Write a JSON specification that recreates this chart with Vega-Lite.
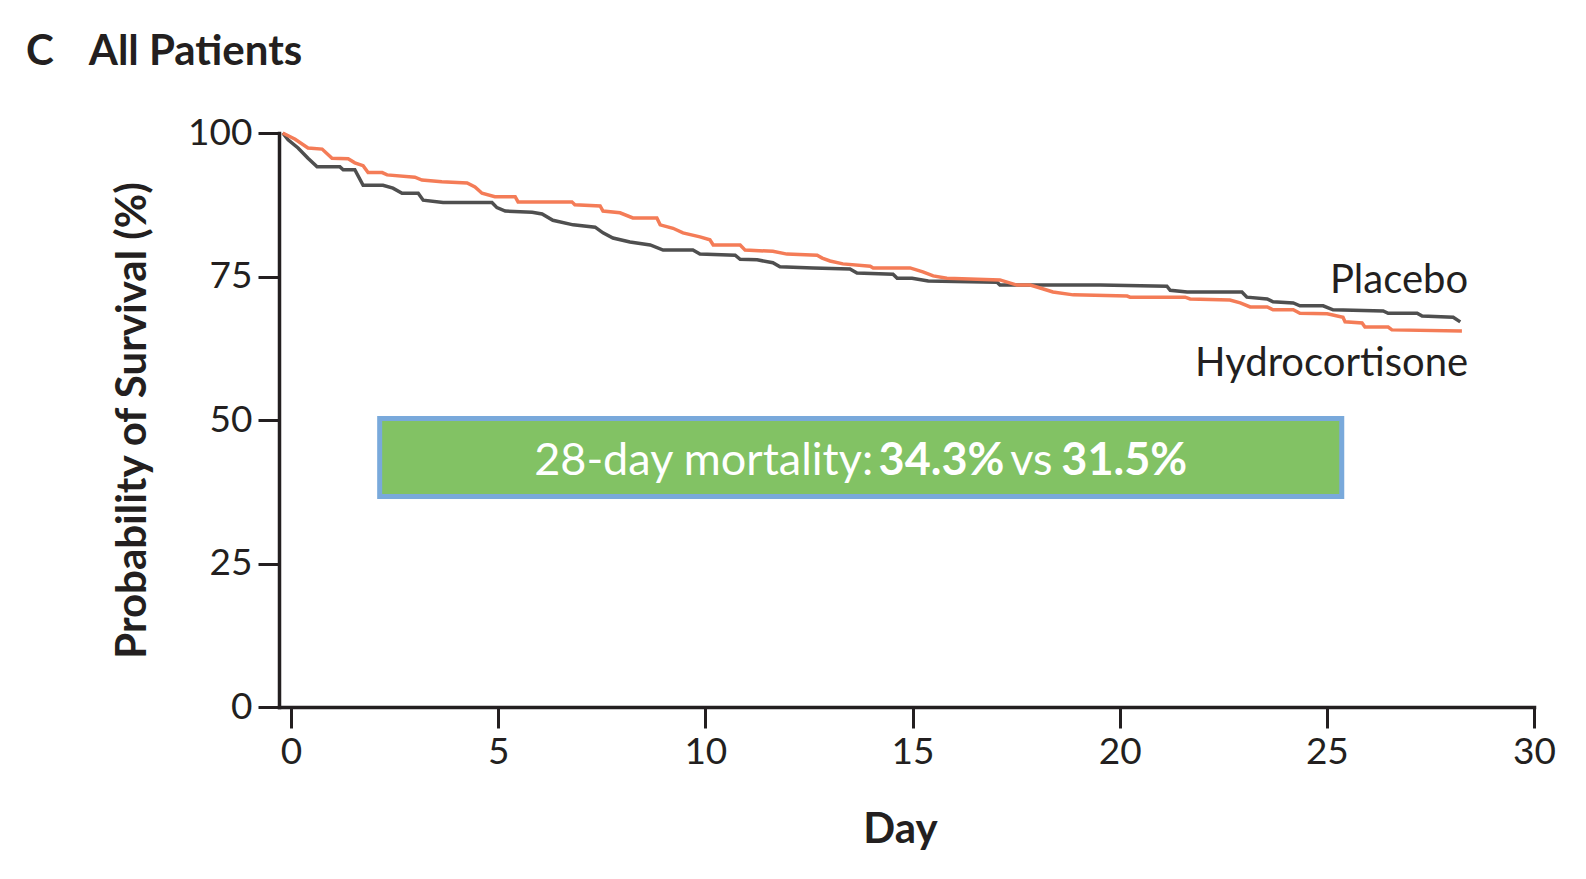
{
  "$schema": "https://vega.github.io/schema/vega-lite/v6.json",
  "autosize": "none",
  "width": 1255,
  "height": 574,
  "padding": {"left": 279, "top": 133, "right": 52, "bottom": 172},
  "background": "white",
  "title": {"text": "C\u2002\u2004All Patients", "anchor": "start", "frame": "group", "dx": -253, "offset": 7, "baseline": "alphabetic", "font": "Lato", "fontSize": 42, "fontWeight": "bold", "color": "#231f20"},
  "config": {
    "view": {"stroke": null},
    "axis": {"grid": false, "domainColor": "#231f20", "tickColor": "#231f20", "labelColor": "#231f20", "titleColor": "#231f20", "domainWidth": 3.5, "tickWidth": 3, "tickSize": 21, "labelFont": "Lato", "labelFontSize": 37, "titleFont": "Lato", "titleFontSize": 42, "titleFontWeight": "bold", "labelPadding": 6, "labelFlush": false, "labelOverlap": false, "labelBound": false, "domainCap": "square"}
  },
  "datasets": {
    "curves": [
      {"arm": "Placebo", "day": -0.2, "surv": 100},
      {"arm": "Placebo", "day": -0.07, "surv": 98.8},
      {"arm": "Placebo", "day": 0.17, "surv": 97.4},
      {"arm": "Placebo", "day": 0.41, "surv": 95.6},
      {"arm": "Placebo", "day": 0.63, "surv": 94.1},
      {"arm": "Placebo", "day": 1.18, "surv": 94.1},
      {"arm": "Placebo", "day": 1.26, "surv": 93.6},
      {"arm": "Placebo", "day": 1.54, "surv": 93.6},
      {"arm": "Placebo", "day": 1.74, "surv": 90.9},
      {"arm": "Placebo", "day": 2.22, "surv": 90.9},
      {"arm": "Placebo", "day": 2.46, "surv": 90.4},
      {"arm": "Placebo", "day": 2.68, "surv": 89.5},
      {"arm": "Placebo", "day": 3.07, "surv": 89.5},
      {"arm": "Placebo", "day": 3.19, "surv": 88.3},
      {"arm": "Placebo", "day": 3.67, "surv": 87.9},
      {"arm": "Placebo", "day": 4.85, "surv": 87.9},
      {"arm": "Placebo", "day": 4.97, "surv": 87.0},
      {"arm": "Placebo", "day": 5.17, "surv": 86.4},
      {"arm": "Placebo", "day": 5.82, "surv": 86.2},
      {"arm": "Placebo", "day": 6.06, "surv": 85.9},
      {"arm": "Placebo", "day": 6.32, "surv": 84.8},
      {"arm": "Placebo", "day": 6.81, "surv": 84.0},
      {"arm": "Placebo", "day": 7.34, "surv": 83.6},
      {"arm": "Placebo", "day": 7.53, "surv": 82.6},
      {"arm": "Placebo", "day": 7.77, "surv": 81.7},
      {"arm": "Placebo", "day": 8.18, "surv": 81.0},
      {"arm": "Placebo", "day": 8.67, "surv": 80.5},
      {"arm": "Placebo", "day": 8.98, "surv": 79.6},
      {"arm": "Placebo", "day": 9.70, "surv": 79.6},
      {"arm": "Placebo", "day": 9.87, "surv": 78.9},
      {"arm": "Placebo", "day": 10.72, "surv": 78.7},
      {"arm": "Placebo", "day": 10.84, "surv": 78.0},
      {"arm": "Placebo", "day": 11.25, "surv": 77.9},
      {"arm": "Placebo", "day": 11.63, "surv": 77.4},
      {"arm": "Placebo", "day": 11.80, "surv": 76.7},
      {"arm": "Placebo", "day": 12.60, "surv": 76.5},
      {"arm": "Placebo", "day": 13.49, "surv": 76.3},
      {"arm": "Placebo", "day": 13.66, "surv": 75.6},
      {"arm": "Placebo", "day": 14.53, "surv": 75.4},
      {"arm": "Placebo", "day": 14.63, "surv": 74.7},
      {"arm": "Placebo", "day": 14.99, "surv": 74.7},
      {"arm": "Placebo", "day": 15.38, "surv": 74.2},
      {"arm": "Placebo", "day": 17.04, "surv": 74.0},
      {"arm": "Placebo", "day": 17.11, "surv": 73.5},
      {"arm": "Placebo", "day": 19.53, "surv": 73.5},
      {"arm": "Placebo", "day": 21.14, "surv": 73.3},
      {"arm": "Placebo", "day": 21.22, "surv": 72.6},
      {"arm": "Placebo", "day": 21.63, "surv": 72.3},
      {"arm": "Placebo", "day": 22.95, "surv": 72.3},
      {"arm": "Placebo", "day": 23.07, "surv": 71.4},
      {"arm": "Placebo", "day": 23.56, "surv": 71.1},
      {"arm": "Placebo", "day": 23.70, "surv": 70.6},
      {"arm": "Placebo", "day": 24.19, "surv": 70.4},
      {"arm": "Placebo", "day": 24.35, "surv": 69.9},
      {"arm": "Placebo", "day": 24.91, "surv": 69.9},
      {"arm": "Placebo", "day": 25.15, "surv": 69.2},
      {"arm": "Placebo", "day": 26.36, "surv": 69.0},
      {"arm": "Placebo", "day": 26.48, "surv": 68.6},
      {"arm": "Placebo", "day": 27.18, "surv": 68.6},
      {"arm": "Placebo", "day": 27.30, "surv": 68.1},
      {"arm": "Placebo", "day": 28.05, "surv": 67.9},
      {"arm": "Placebo", "day": 28.22, "surv": 67.1},
      {"arm": "Hydrocortisone", "day": -0.2, "surv": 100},
      {"arm": "Hydrocortisone", "day": 0.10, "surv": 98.9},
      {"arm": "Hydrocortisone", "day": 0.41, "surv": 97.4},
      {"arm": "Hydrocortisone", "day": 0.75, "surv": 97.2},
      {"arm": "Hydrocortisone", "day": 0.99, "surv": 95.6},
      {"arm": "Hydrocortisone", "day": 1.38, "surv": 95.5},
      {"arm": "Hydrocortisone", "day": 1.54, "surv": 94.8},
      {"arm": "Hydrocortisone", "day": 1.74, "surv": 94.3},
      {"arm": "Hydrocortisone", "day": 1.86, "surv": 93.1},
      {"arm": "Hydrocortisone", "day": 2.20, "surv": 93.1},
      {"arm": "Hydrocortisone", "day": 2.32, "surv": 92.7},
      {"arm": "Hydrocortisone", "day": 2.99, "surv": 92.3},
      {"arm": "Hydrocortisone", "day": 3.16, "surv": 91.8},
      {"arm": "Hydrocortisone", "day": 3.64, "surv": 91.5},
      {"arm": "Hydrocortisone", "day": 4.25, "surv": 91.3},
      {"arm": "Hydrocortisone", "day": 4.44, "surv": 90.6},
      {"arm": "Hydrocortisone", "day": 4.61, "surv": 89.5},
      {"arm": "Hydrocortisone", "day": 4.92, "surv": 88.9},
      {"arm": "Hydrocortisone", "day": 5.41, "surv": 88.9},
      {"arm": "Hydrocortisone", "day": 5.48, "surv": 88.0},
      {"arm": "Hydrocortisone", "day": 6.78, "surv": 88.0},
      {"arm": "Hydrocortisone", "day": 6.85, "surv": 87.5},
      {"arm": "Hydrocortisone", "day": 7.46, "surv": 87.3},
      {"arm": "Hydrocortisone", "day": 7.53, "surv": 86.4},
      {"arm": "Hydrocortisone", "day": 7.94, "surv": 86.1},
      {"arm": "Hydrocortisone", "day": 8.25, "surv": 85.2},
      {"arm": "Hydrocortisone", "day": 8.83, "surv": 85.2},
      {"arm": "Hydrocortisone", "day": 8.91, "surv": 84.0},
      {"arm": "Hydrocortisone", "day": 9.22, "surv": 83.4},
      {"arm": "Hydrocortisone", "day": 9.46, "surv": 82.6},
      {"arm": "Hydrocortisone", "day": 9.87, "surv": 81.9},
      {"arm": "Hydrocortisone", "day": 10.11, "surv": 81.4},
      {"arm": "Hydrocortisone", "day": 10.19, "surv": 80.5},
      {"arm": "Hydrocortisone", "day": 10.84, "surv": 80.5},
      {"arm": "Hydrocortisone", "day": 10.96, "surv": 79.6},
      {"arm": "Hydrocortisone", "day": 11.63, "surv": 79.4},
      {"arm": "Hydrocortisone", "day": 11.97, "surv": 78.9},
      {"arm": "Hydrocortisone", "day": 12.70, "surv": 78.7},
      {"arm": "Hydrocortisone", "day": 12.82, "surv": 78.2},
      {"arm": "Hydrocortisone", "day": 13.01, "surv": 77.7},
      {"arm": "Hydrocortisone", "day": 13.32, "surv": 77.2},
      {"arm": "Hydrocortisone", "day": 13.98, "surv": 76.8},
      {"arm": "Hydrocortisone", "day": 14.05, "surv": 76.5},
      {"arm": "Hydrocortisone", "day": 14.94, "surv": 76.5},
      {"arm": "Hydrocortisone", "day": 15.25, "surv": 75.8},
      {"arm": "Hydrocortisone", "day": 15.50, "surv": 75.1},
      {"arm": "Hydrocortisone", "day": 15.83, "surv": 74.7},
      {"arm": "Hydrocortisone", "day": 17.11, "surv": 74.4},
      {"arm": "Hydrocortisone", "day": 17.52, "surv": 73.5},
      {"arm": "Hydrocortisone", "day": 17.84, "surv": 73.5},
      {"arm": "Hydrocortisone", "day": 18.08, "surv": 73.0},
      {"arm": "Hydrocortisone", "day": 18.39, "surv": 72.3},
      {"arm": "Hydrocortisone", "day": 18.88, "surv": 71.8},
      {"arm": "Hydrocortisone", "day": 20.18, "surv": 71.6},
      {"arm": "Hydrocortisone", "day": 20.25, "surv": 71.4},
      {"arm": "Hydrocortisone", "day": 21.58, "surv": 71.4},
      {"arm": "Hydrocortisone", "day": 21.70, "surv": 71.1},
      {"arm": "Hydrocortisone", "day": 22.66, "surv": 70.9},
      {"arm": "Hydrocortisone", "day": 22.91, "surv": 70.4},
      {"arm": "Hydrocortisone", "day": 23.15, "surv": 69.7},
      {"arm": "Hydrocortisone", "day": 23.56, "surv": 69.7},
      {"arm": "Hydrocortisone", "day": 23.70, "surv": 69.2},
      {"arm": "Hydrocortisone", "day": 24.19, "surv": 69.2},
      {"arm": "Hydrocortisone", "day": 24.35, "surv": 68.6},
      {"arm": "Hydrocortisone", "day": 25.01, "surv": 68.5},
      {"arm": "Hydrocortisone", "day": 25.39, "surv": 67.9},
      {"arm": "Hydrocortisone", "day": 25.44, "surv": 67.1},
      {"arm": "Hydrocortisone", "day": 25.85, "surv": 66.9},
      {"arm": "Hydrocortisone", "day": 25.92, "surv": 66.2},
      {"arm": "Hydrocortisone", "day": 26.48, "surv": 66.2},
      {"arm": "Hydrocortisone", "day": 26.57, "surv": 65.7},
      {"arm": "Hydrocortisone", "day": 28.26, "surv": 65.5}
    ],
    "box": [{"day": 2.14, "day2": 25.36, "surv": 50.26, "surv2": 36.67}],
    "boxtext": [
      {"day": 9.96, "surv": 40.4, "label": "28-day mortality:", "bold": false},
      {"day": 15.70, "surv": 40.4, "label": "34.3%", "bold": true},
      {"day": 17.87, "surv": 40.4, "label": "vs", "bold": false},
      {"day": 20.11, "surv": 40.4, "label": "31.5%", "bold": true}
    ],
    "armlabels": [
      {"day": 28.41, "surv": 72.1, "label": "Placebo"},
      {"day": 28.41, "surv": 57.7, "label": "Hydrocortisone"}
    ]
  },
  "layer": [
    {
      "data": {"name": "curves"},
      "mark": {"type": "line", "strokeWidth": 3.5, "interpolate": "linear"},
      "encoding": {
        "x": {"field": "day", "type": "quantitative", "title": "Day", "scale": {"domain": [-0.29, 30], "nice": false, "zero": false},
              "axis": {"values": [0, 5, 10, 15, 20, 25, 30], "title": "Day", "titleX": 621, "titleY": 135, "titleAlign": "center", "titleBaseline": "alphabetic"}},
        "y": {"field": "surv", "type": "quantitative", "title": "Probability of Survival (%)", "scale": {"domain": [0, 100], "nice": false, "zero": false},
              "axis": {"values": [0, 25, 50, 75, 100], "title": "Probability of Survival (%)", "titleX": -134, "titleY": 287, "titleAngle": -90, "titleAlign": "center", "titleBaseline": "alphabetic"}},
        "color": {"field": "arm", "type": "nominal", "scale": {"domain": ["Placebo", "Hydrocortisone"], "range": ["#4f4f4f", "#f47c57"]}, "legend": null}
      }
    },
    {
      "data": {"name": "box"},
      "mark": {"type": "rect", "fill": "#82c264", "stroke": "#79a9db", "strokeWidth": 5},
      "encoding": {
        "x": {"field": "day", "type": "quantitative", "title": "Day"},
        "x2": {"field": "day2"},
        "y": {"field": "surv", "type": "quantitative", "title": "Probability of Survival (%)"},
        "y2": {"field": "surv2"}
      }
    },
    {
      "data": {"name": "boxtext"},
      "transform": [{"filter": "!datum.bold"}],
      "mark": {"type": "text", "font": "Lato", "fontSize": 45, "color": "white", "align": "center", "baseline": "alphabetic"},
      "encoding": {
        "x": {"field": "day", "type": "quantitative", "title": "Day"},
        "y": {"field": "surv", "type": "quantitative", "title": "Probability of Survival (%)"},
        "text": {"field": "label"}
      }
    },
    {
      "data": {"name": "boxtext"},
      "transform": [{"filter": "datum.bold"}],
      "mark": {"type": "text", "font": "Lato", "fontSize": 45, "fontWeight": "bold", "color": "white", "align": "center", "baseline": "alphabetic"},
      "encoding": {
        "x": {"field": "day", "type": "quantitative", "title": "Day"},
        "y": {"field": "surv", "type": "quantitative", "title": "Probability of Survival (%)"},
        "text": {"field": "label"}
      }
    },
    {
      "data": {"name": "armlabels"},
      "mark": {"type": "text", "font": "Lato", "fontSize": 40, "color": "#231f20", "align": "right", "baseline": "alphabetic"},
      "encoding": {
        "x": {"field": "day", "type": "quantitative", "title": "Day"},
        "y": {"field": "surv", "type": "quantitative", "title": "Probability of Survival (%)"},
        "text": {"field": "label"}
      }
    }
  ]
}
